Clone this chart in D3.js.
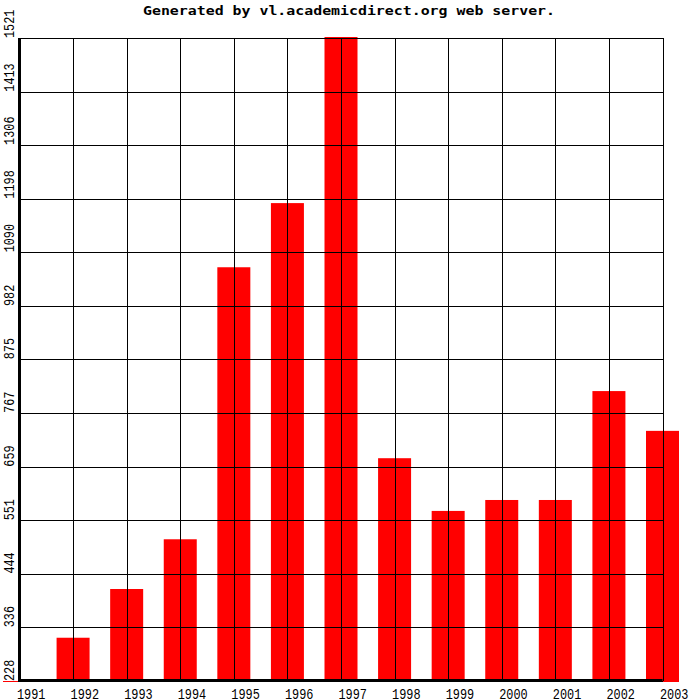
<!DOCTYPE html>
<html><head><meta charset="utf-8">
<script src="https://cdn.jsdelivr.net/npm/d3@7"></script>
<style>body{margin:0;background:#fff}svg{display:block}</style>
</head><body>
<script>
const years = ["1991","1992","1993","1994","1995","1996","1997","1998","1999","2000","2001","2002","2003"];
const values = [228,315,413,513,1060,1189,1523,676,570,592,592,811,731];
const yTicks = [228,336,444,551,659,767,875,982,1090,1198,1306,1413,1521];
const title = "Generated by vl.academicdirect.org web server.";

const W = 700, H = 700;
const svg = d3.select("body").append("svg").attr("width", W).attr("height", H);

const x = d3.scalePoint().domain(years).range([19.5, 662.5]);
const y = d3.scaleLinear().domain([228, 1521]).range([681, 38]);
const baseY = 682;
const barW = 33;

// bars
svg.append("g").selectAll("rect").data(years).join("rect")
  .attr("x", d => x(d) - barW / 2)
  .attr("width", barW)
  .attr("y", (d, i) => y(values[i]))
  .attr("height", (d, i) => baseY - y(values[i]))
  .attr("fill", "#ff0000");

// grid
const grid = svg.append("g").attr("stroke", "#000").attr("stroke-width", 1).attr("shape-rendering", "crispEdges");
grid.selectAll("line.h").data(yTicks).join("line").attr("class", "h")
  .attr("x1", x.range()[0]).attr("x2", x.range()[1])
  .attr("y1", d => Math.round(y(d)) + 0.5).attr("y2", d => Math.round(y(d)) + 0.5);
grid.selectAll("line.v").data(years).join("line").attr("class", "v")
  .attr("x1", d => Math.round(x(d)) + 0.5).attr("x2", d => Math.round(x(d)) + 0.5)
  .attr("y1", y(1521)).attr("y2", y(228));

// thick axes
svg.append("line").attr("x1", 19.5).attr("x2", 19.5).attr("y1", 38).attr("y2", 682)
  .attr("stroke", "#000").attr("stroke-width", 3);
svg.append("line").attr("x1", 18).attr("x2", 662.5).attr("y1", 680.5).attr("y2", 680.5)
  .attr("stroke", "#000").attr("stroke-width", 3);

const font = "'Liberation Mono', 'DejaVu Sans Mono', monospace";

// y labels (rotated)
svg.append("g").selectAll("text").data(yTicks).join("text")
  .attr("transform", d => `translate(13.5,${y(d)}) rotate(-90)`)
  .attr("text-anchor", "start")
  .attr("font-family", font).attr("font-size", 15)
  .attr("fill", "#000")
  .attr("textLength", d => String(d).length * 7.1).attr("lengthAdjust", "spacingAndGlyphs")
  .text(d => d);

// x labels
svg.append("g").selectAll("text").data(years).join("text")
  .attr("x", d => x(d) - 2.5)
  .attr("y", 698.5)
  .attr("font-family", font).attr("font-size", 15)
  .attr("fill", "#000")
  .attr("textLength", 28.5).attr("lengthAdjust", "spacingAndGlyphs")
  .text(d => d);

// title
svg.append("text")
  .attr("x", 143).attr("y", 15)
  .attr("font-family", "'DejaVu Sans Mono', monospace").attr("font-size", 13).attr("font-weight", "bold")
  .attr("fill", "#000")
  .attr("textLength", 412).attr("lengthAdjust", "spacingAndGlyphs")
  .text(title);
</script>
</body></html>
